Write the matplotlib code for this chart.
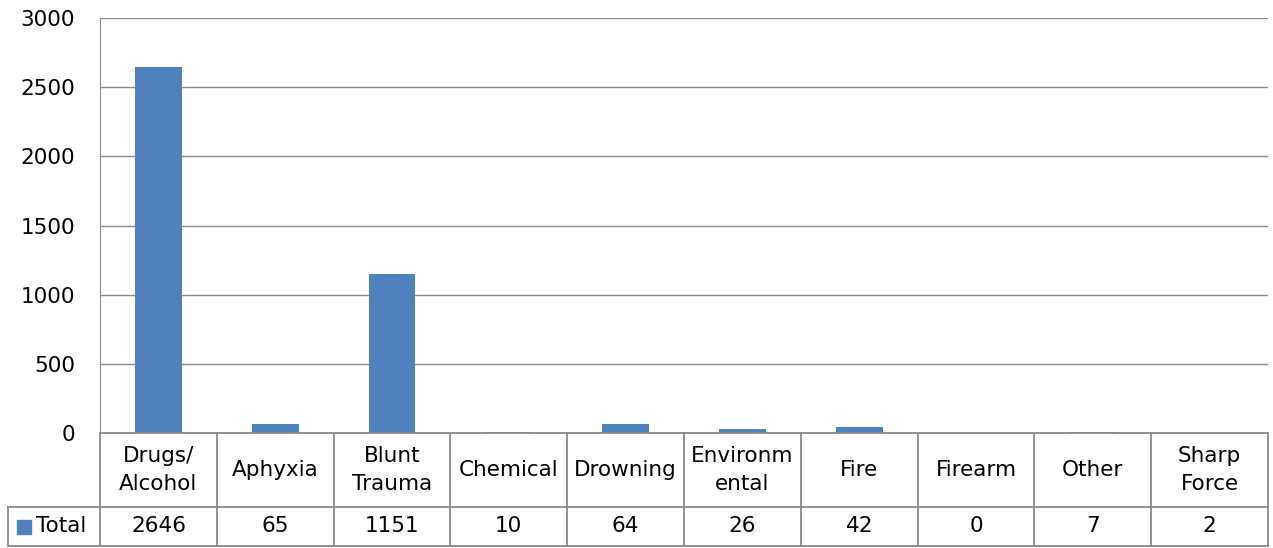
import matplotlib.pyplot as plt
import numpy as np

categories = ["Drugs/\nAlcohol", "Aphyxia", "Blunt\nTrauma", "Chemical", "Drowning",
              "Environm\nental", "Fire", "Firearm", "Other", "Sharp\nForce"]
totals = [2646, 65, 1151, 10, 64, 26, 42, 0, 7, 2]
yticks = [0, 500, 1000, 1500, 2000, 2500, 3000]
series_name = "Total"

W, H = 1273, 548
bar_color = "#4F81BD"
line_color = "#898989"
font = "DejaVu Sans"
fs = 15.5

fig = plt.figure(figsize=(W / 100, H / 100), dpi=100)

# pixel layout of plot area and table
px_left, px_right = 100, 1268
px_top, px_zero = 18, 433
px_head_bot, px_tab_bot = 507, 546
px_legend_left = 8

ax = fig.add_axes([px_left / W, (H - px_zero) / H,
                   (px_right - px_left) / W, (px_zero - px_top) / H])
x = np.arange(len(categories))
ax.bar(x, totals, width=0.4, color=bar_color, zorder=3)
ax.set_xlim(-0.5, len(categories) - 0.5)
ax.set_ylim(0, 3000)
ax.set_yticks(yticks)
ax.set_yticklabels([str(v) for v in yticks], fontsize=fs, family=font)
ax.tick_params(axis="y", length=0, pad=18)
ax.set_xticks([])
ax.grid(axis="y", color=line_color, linewidth=1, zorder=0)
for s in ["top", "right", "bottom"]:
    ax.spines[s].set_visible(False)
ax.spines["left"].set_color(line_color)

# data table drawn in figure pixel coordinates
tab = fig.add_axes([0, 0, 1, 1], facecolor="none")
tab.set_xlim(0, W)
tab.set_ylim(H, 0)
tab.axis("off")
colw = (px_right - px_left) / len(categories)
lw = 1.3
tab.plot([px_left, px_right], [px_zero, px_zero], color=line_color, lw=lw)
tab.plot([px_legend_left, px_right], [px_head_bot, px_head_bot], color=line_color, lw=lw)
tab.plot([px_legend_left, px_right], [px_tab_bot, px_tab_bot], color=line_color, lw=lw)
tab.plot([px_legend_left, px_legend_left], [px_head_bot, px_tab_bot], color=line_color, lw=lw)
for i in range(len(categories) + 1):
    xx = px_left + i * colw
    tab.plot([xx, xx], [px_zero, px_tab_bot], color=line_color, lw=lw)
for i, (c, v) in enumerate(zip(categories, totals)):
    cx = px_left + (i + 0.5) * colw
    tab.text(cx, (px_zero + px_head_bot) / 2, c, ha="center", va="center",
             fontsize=fs, family=font, linespacing=1.55)
    tab.text(cx, (px_head_bot + px_tab_bot) / 2, str(v), ha="center", va="center",
             fontsize=fs, family=font)
ly = (px_head_bot + px_tab_bot) / 2
tab.add_patch(plt.Rectangle((px_legend_left + 9, ly - 7), 14, 14, color=bar_color))
tab.text(px_legend_left + 28, ly, series_name, ha="left", va="center",
         fontsize=fs, family=font)

fig.savefig("out.png", dpi=100)
